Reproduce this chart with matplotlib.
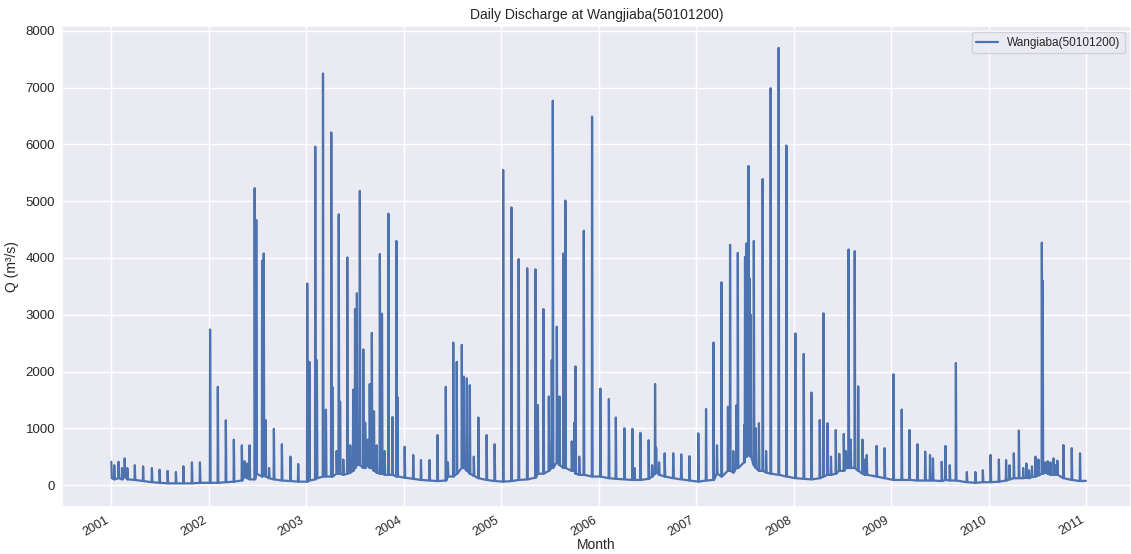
import numpy as np
import pandas as pd
import matplotlib
matplotlib.use("Agg")
import matplotlib.pyplot as plt
import seaborn as sns

# flood events: date, peak Q and the flow level around it
event_dates = [
    "2001-01-01", "2001-01-12", "2001-01-28", "2001-02-10", "2001-02-20", "2001-03-02",
    "2001-03-30", "2001-04-30", "2001-06-02", "2001-07-01", "2001-07-31", "2001-08-31",
    "2001-09-28", "2001-10-30", "2001-11-29",
    "2002-01-06", "2002-02-04", "2002-03-06", "2002-04-05", "2002-05-05", "2002-05-15",
    "2002-05-25", "2002-06-03", "2002-06-22", "2002-06-28", "2002-07-20", "2002-07-26",
    "2002-08-02", "2002-08-15", "2002-09-02", "2002-10-02", "2002-11-03", "2002-12-02",
    "2003-01-05", "2003-01-13", "2003-02-04", "2003-02-10", "2003-03-05", "2003-03-16",
    "2003-04-05", "2003-04-09", "2003-04-25", "2003-05-03", "2003-05-08", "2003-05-20",
    "2003-06-04", "2003-06-15",
    "2003-06-26", "2003-07-03", "2003-07-10", "2003-07-15", "2003-07-21", "2003-08-03",
    "2003-08-10", "2003-08-20", "2003-08-27", "2003-09-04", "2003-09-12", "2003-09-22",
    "2003-10-04", "2003-10-12", "2003-10-22", "2003-11-05", "2003-11-20", "2003-12-05",
    "2003-12-09",
    "2004-01-05", "2004-02-06", "2004-03-06", "2004-04-07", "2004-05-07", "2004-06-07",
    "2004-06-15", "2004-07-05", "2004-07-18", "2004-08-06", "2004-08-14", "2004-08-25",
    "2004-09-05", "2004-09-20", "2004-10-07", "2004-11-07", "2004-12-07",
    "2005-01-08", "2005-02-08", "2005-03-07", "2005-04-08", "2005-05-09", "2005-05-18",
    "2005-06-08", "2005-06-28", "2005-07-09", "2005-07-13", "2005-07-28", "2005-08-07",
    "2005-08-22", "2005-08-29", "2005-09-22", "2005-10-01", "2005-10-06", "2005-10-20",
    "2005-11-06", "2005-12-07",
    "2006-01-07", "2006-02-08", "2006-03-06", "2006-04-07", "2006-05-07", "2006-05-15",
    "2006-06-06", "2006-07-07", "2006-07-20", "2006-07-31", "2006-08-04", "2006-08-15",
    "2006-09-05", "2006-10-07", "2006-11-06", "2006-12-07",
    "2007-01-09", "2007-02-07", "2007-03-07", "2007-03-20", "2007-04-06", "2007-04-30",
    "2007-05-08", "2007-05-20", "2007-06-01", "2007-06-06", "2007-06-30", "2007-07-03",
    "2007-07-09", "2007-07-16", "2007-07-20", "2007-07-24", "2007-08-05", "2007-08-12",
    "2007-08-24", "2007-09-07", "2007-09-20", "2007-10-07", "2007-11-06", "2007-12-05",
    "2008-01-08", "2008-02-08", "2008-03-08", "2008-04-08", "2008-04-22", "2008-05-07",
    "2008-05-20", "2008-06-07", "2008-06-20", "2008-07-07", "2008-07-15", "2008-07-25",
    "2008-08-02", "2008-08-17", "2008-08-30", "2008-09-15", "2008-09-24", "2008-10-01",
    "2008-11-07", "2008-12-07",
    "2009-01-09", "2009-02-09", "2009-03-10", "2009-04-09", "2009-05-08", "2009-05-26",
    "2009-06-06", "2009-07-09", "2009-07-23", "2009-08-08", "2009-08-31", "2009-10-11",
    "2009-11-12", "2009-12-10",
    "2010-01-08", "2010-02-08", "2010-03-07", "2010-03-20", "2010-04-05", "2010-04-24",
    "2010-05-10", "2010-05-22", "2010-06-01", "2010-06-12", "2010-06-25", "2010-07-06",
    "2010-07-19", "2010-07-22", "2010-08-01", "2010-08-10", "2010-08-20", "2010-09-01",
    "2010-09-08", "2010-09-15", "2010-10-08", "2010-11-08", "2010-12-09",
]
event_peak = [
    410, 350, 410, 300, 470, 300,
    350, 330, 300, 270, 250, 230,
    330, 400, 400,
    2740, 1730, 1140, 800, 700, 420,
    380, 700, 5230, 4670, 3950, 4080,
    1140, 300, 990, 720, 500, 370,
    3550, 2170, 5960, 2200, 7250, 1330,
    6210, 1730, 600, 4770, 1470, 450,
    4010, 700,
    1680, 3100, 3380, 1000, 5180, 2390,
    1100, 800, 1780, 2680, 1300, 700,
    4070, 3020, 600, 4780, 1200, 4300,
    1550,
    675, 530, 440, 440, 880, 1730,
    400, 2510, 2170, 2470, 1910, 1880,
    1760, 500, 1190, 880, 720,
    5550, 4890, 3980, 3820, 3800, 1410,
    3100, 1560, 2200, 6770, 2790, 1560,
    4080, 5010, 770, 1100, 2090, 500,
    4480, 6490,
    1700, 1515, 1190, 1000, 990, 300,
    920, 790, 350, 1780, 660, 400,
    560, 560, 540, 510,
    910, 1340, 2510, 700, 3570, 1380,
    4230, 600, 1410, 4090, 1060, 4020,
    4260, 5620, 3640, 3000, 4300, 1000,
    1090, 5390, 600, 6990, 7700, 5980,
    2670, 2310, 1630, 1145, 3025, 1090,
    500, 970, 550, 900, 600, 4150,
    800, 4120, 1740, 800, 450, 530,
    690, 650,
    1950, 1330, 970, 720, 590, 530,
    470, 410, 690, 350, 2150, 230,
    230, 260,
    530, 450, 440, 350, 560, 960,
    300, 380, 260, 330, 500, 450,
    4270, 3600, 400, 420, 400, 470,
    350, 430, 705, 650, 560,
]
event_base = [
    120, 100, 120, 100, 150, 100,
    90, 70, 50, 40, 30, 30,
    30, 30, 40,
    40, 40, 50, 60, 80, 150,
    120, 100, 100, 200, 150, 200,
    150, 120, 100, 80, 70, 60,
    60, 80, 100, 120, 150, 150,
    150, 150, 200, 200, 200, 180,
    200, 220,
    250, 300, 350, 400, 350, 300,
    300, 350, 300, 300, 250, 220,
    200, 200, 180, 180, 180, 150,
    150,
    130, 110, 90, 80, 70, 80,
    150, 150, 200, 300, 300, 250,
    200, 160, 120, 90, 70,
    60, 70, 90, 100, 130, 200,
    200, 250, 300, 300, 400, 350,
    300, 300, 250, 250, 200, 180,
    180, 150,
    150, 120, 110, 100, 90, 90,
    90, 110, 150, 200, 250, 180,
    150, 120, 100, 80,
    60, 80, 90, 200, 150, 250,
    250, 220, 300, 300, 400, 500,
    500, 550, 600, 500, 350, 300,
    250, 250, 220, 200, 180, 150,
    120, 110, 100, 120, 150, 180,
    180, 200, 250, 250, 300, 300,
    300, 300, 250, 200, 180, 180,
    150, 120,
    90, 90, 90, 80, 80, 80,
    80, 70, 90, 80, 80, 50,
    40, 50,
    50, 60, 80, 100, 120, 120,
    120, 130, 120, 140, 150, 170,
    200, 200, 220, 200, 180, 180,
    180, 180, 120, 90, 70,
]
end_date = "2010-12-31"
end_q = 75

# daily record: each event rises from and falls back to its surrounding flow
dates, q = [], []
for d, p, b in zip(event_dates, event_peak, event_base):
    t = pd.Timestamp(d)
    if t > pd.Timestamp("2001-01-01"):
        dates.append(t - pd.Timedelta(days=1))
        q.append(b)
    dates.append(t)
    q.append(p)
    dates.append(t + pd.Timedelta(days=2))
    q.append(b)
dates.append(pd.Timestamp(end_date))
q.append(end_q)
series = pd.Series(q, index=pd.DatetimeIndex(dates))

sns.set_theme(style="darkgrid")
plt.rcParams["font.family"] = ["Liberation Sans", "DejaVu Sans"]

fig = plt.figure(figsize=(11.31, 5.54), dpi=100)
ax = fig.add_axes([0.055, 0.085, 0.945, 0.868])
ax.plot(series.index, series.values, color="#4c72b0", linewidth=1.6, label="Wangiaba(50101200)")

ax.set_xlim(pd.Timestamp("2000-07-01"), pd.Timestamp("2011-06-18"))
ax.set_ylim(-385, 8085)
ax.set_title("Daily Discharge at Wangjiaba(50101200)", fontsize=10, pad=5)
ax.set_xlabel("Month", fontsize=10, labelpad=0)
ax.set_ylabel("Q (m³/s)", fontsize=10, labelpad=5)
ax.tick_params(labelsize=9.5, length=0, pad=5, colors="#262626")
for lbl in ax.get_xticklabels():
    lbl.set_rotation(30)
    lbl.set_ha("right")
    lbl.set_fontsize(9)
ax.legend(loc="upper right", fontsize=8.5, handlelength=1.8)

fig.savefig("out.png", dpi=100)
